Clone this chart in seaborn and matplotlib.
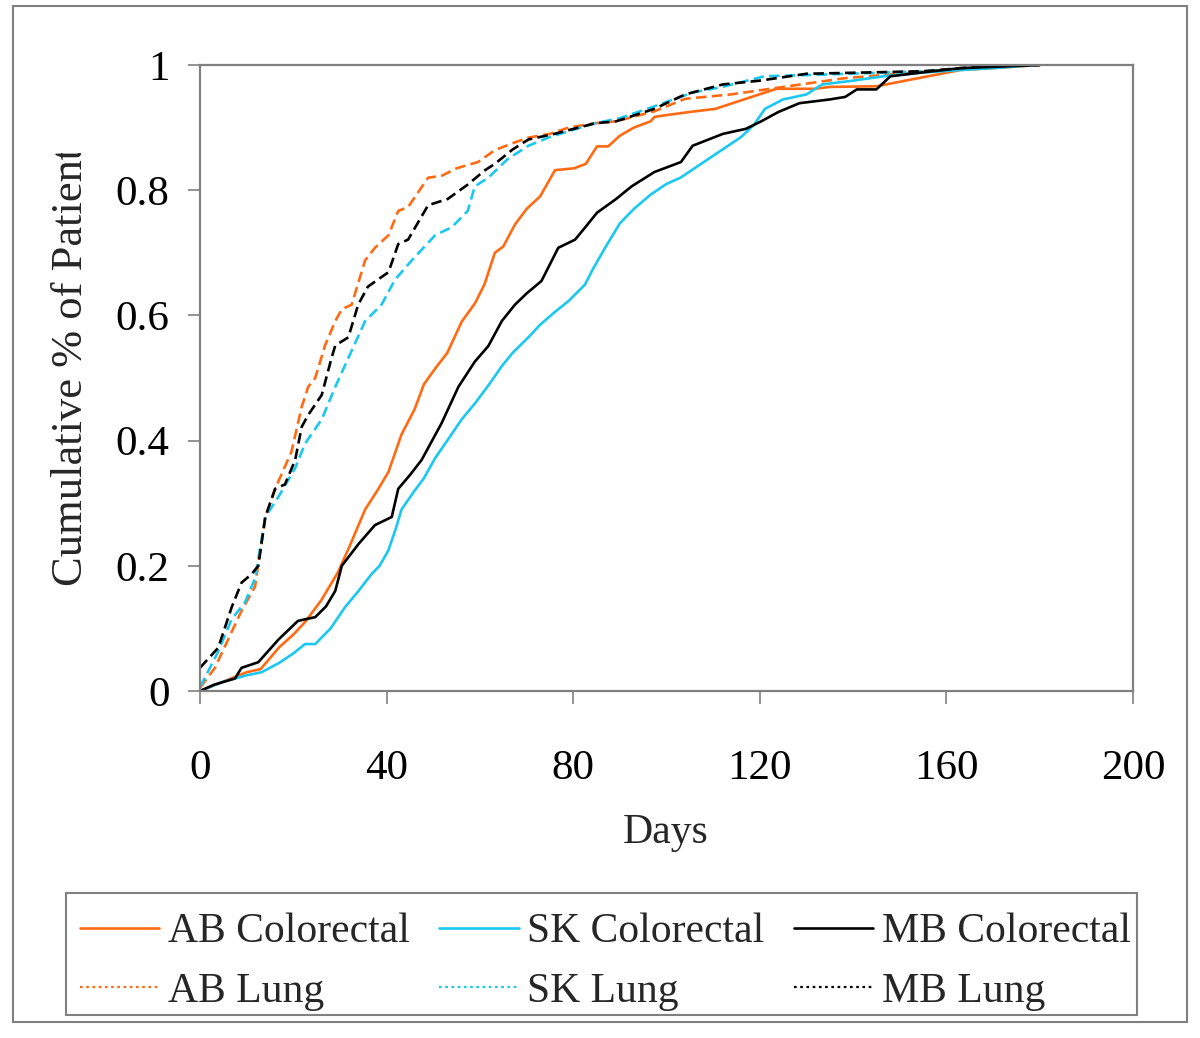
import matplotlib
matplotlib.use("Agg")
import matplotlib.pyplot as plt
from matplotlib.lines import Line2D
from matplotlib.patches import Rectangle
from matplotlib.transforms import Bbox
import seaborn as sns
import pandas as pd

# ---------------- data ----------------
ab_col_days = [0, 5, 10, 13, 17, 20, 22.5, 26, 29.6, 32, 35.4, 38, 40.4, 43.2, 46, 48, 50.4, 53, 56.1, 59, 61,
               63.2, 65, 67.5, 70, 72.9, 76.1, 80.2, 82.7, 85.1, 87.5, 90, 93, 96.6, 97.4, 100, 105, 110.5, 117,
               123.6, 131.8, 135, 145, 154, 163, 170, 180]
ab_col_vals = [0, 0.015, 0.03, 0.035, 0.07, 0.09, 0.11, 0.145, 0.19, 0.23, 0.29, 0.32, 0.35, 0.41, 0.45, 0.49,
               0.515, 0.54, 0.59, 0.62, 0.65, 0.70, 0.71, 0.745, 0.77, 0.79, 0.832, 0.835, 0.842, 0.87, 0.87,
               0.887, 0.90, 0.91, 0.917, 0.92, 0.925, 0.93, 0.946, 0.962, 0.962, 0.965, 0.966, 0.979, 0.992,
               0.995, 1.0]

sk_col_days = [0, 5, 10, 13.2, 17, 20, 22.5, 24.7, 28, 31.1, 34, 36.8, 38.5, 40.4, 42, 43.2, 46, 48, 50.4, 53,
               56.1, 59, 62, 64.7, 67, 70.4, 72.9, 76, 79, 82.5, 84.3, 87, 90, 93, 96.6, 100, 103, 108, 113, 116,
               118.7, 121.1, 125, 130, 133.4, 140, 146.5, 155, 163, 170, 179]
sk_col_vals = [0, 0.015, 0.025, 0.03, 0.045, 0.06, 0.075, 0.075, 0.10, 0.134, 0.16, 0.187, 0.2, 0.225, 0.26,
               0.29, 0.32, 0.34, 0.372, 0.40, 0.434, 0.46, 0.49, 0.519, 0.54, 0.565, 0.585, 0.605, 0.623, 0.649,
               0.675, 0.71, 0.747, 0.77, 0.793, 0.81, 0.82, 0.845, 0.87, 0.885, 0.904, 0.93, 0.945, 0.953, 0.969,
               0.975, 0.982, 0.988, 0.992, 0.995, 1.0]

mb_col_days = [0, 3, 7.5, 8.9, 12.5, 16.8, 21, 24.7, 27, 29, 30.4, 34, 37.5, 41.1, 42.5, 45, 47.5, 51.8, 55.4,
               58.9, 61.8, 64.7, 67.5, 70, 73.2, 76.8, 80.4, 82.5, 85.1, 89.2, 92.5, 97.4, 103.1, 105.6, 112.1,
               117, 120.3, 124, 128.5, 135, 138.3, 140.8, 145, 148, 154.7, 163, 180]
mb_col_vals = [0, 0.01, 0.02, 0.037, 0.046, 0.082, 0.112, 0.118, 0.135, 0.16, 0.2, 0.235, 0.265, 0.278, 0.323,
               0.345, 0.369, 0.428, 0.486, 0.526, 0.551, 0.591, 0.617, 0.635, 0.655, 0.708, 0.721, 0.74, 0.764,
               0.786, 0.806, 0.829, 0.845, 0.871, 0.89, 0.898, 0.91, 0.925, 0.939, 0.945, 0.949, 0.961, 0.961,
               0.982, 0.988, 0.995, 1.0]

ab_lung_days = [0, 3.2, 6, 8.9, 11.8, 14, 16.1, 19.6, 21.8, 23.2, 24.7, 26.8, 29, 30.4, 32.5, 35.4, 37.5, 40.4,
                42.5, 44.6, 48.9, 51.8, 55, 59.6, 63.2, 67, 70.4, 75, 79, 84.7, 89.2, 97.4, 104, 113.8, 126,
                138.3, 154.7, 171, 180]
ab_lung_vals = [0.005, 0.037, 0.082, 0.128, 0.167, 0.278, 0.323, 0.382, 0.454, 0.486, 0.5, 0.552, 0.591, 0.61,
                0.617, 0.688, 0.708, 0.728, 0.767, 0.773, 0.82, 0.823, 0.835, 0.845, 0.864, 0.875, 0.884, 0.89,
                0.90, 0.907, 0.91, 0.926, 0.946, 0.953, 0.966, 0.979, 0.989, 0.998, 1.0]

sk_lung_days = [0, 3.9, 6.8, 9.6, 11.8, 14, 16.8, 20.4, 22.5, 26.1, 29, 31.8, 35.4, 38.9, 41.8, 45.4, 50.4, 54,
                57.4, 58.9, 61.8, 66, 70.4, 75, 84.7, 90, 95.9, 105.6, 112, 121, 135, 155, 170, 180]
sk_lung_vals = [0.006, 0.063, 0.115, 0.141, 0.18, 0.278, 0.31, 0.356, 0.395, 0.434, 0.486, 0.532, 0.591, 0.617,
                0.657, 0.688, 0.728, 0.741, 0.767, 0.806, 0.82, 0.85, 0.871, 0.885, 0.907, 0.915, 0.93, 0.956,
                0.965, 0.982, 0.985, 0.99, 0.996, 1.0]

mb_lung_days = [0, 3.9, 6.8, 8.9, 11.1, 12.5, 14, 16.1, 18.2, 20.4, 21.8, 23.2, 26.1, 28.2, 29, 31.8, 33.9, 36,
                40.4, 42.5, 44.6, 48.9, 53.1, 57.4, 61.1, 63.2, 67, 70.4, 76, 84.7, 89.2, 97.4, 104, 112.1, 120,
                130, 155, 168, 180]
mb_lung_vals = [0.037, 0.069, 0.134, 0.173, 0.187, 0.2, 0.278, 0.323, 0.33, 0.369, 0.422, 0.441, 0.473, 0.532,
                0.552, 0.565, 0.617, 0.646, 0.669, 0.714, 0.721, 0.776, 0.786, 0.809, 0.832, 0.842, 0.865, 0.881,
                0.89, 0.907, 0.91, 0.93, 0.953, 0.969, 0.975, 0.986, 0.99, 0.998, 1.0]

series_labels = ["AB Colorectal", "AB Lung", "SK Colorectal", "SK Lung", "MB Colorectal", "MB Lung"]
x_ticks = [0, 40, 80, 120, 160, 200]
y_ticks = [0, 0.2, 0.4, 0.6, 0.8, 1]
y_tick_labels = ["0", "0.2", "0.4", "0.6", "0.8", "1"]

# ---------------- styling ----------------
sns.set_theme(style="white")
plt.rcParams["font.family"] = ["Liberation Serif", "DejaVu Serif"]

ORANGE = "#FF6A13"
CYAN = "#1AC8F0"
BLACK = "#000000"
GRAY = "#808080"
SOLID = "-"
DASH = (0, (4, 2))

W, H = 1200, 1038
fig = plt.figure(figsize=(W / 100, H / 100), dpi=100)
ax = fig.add_axes([200 / W, 1 - 691 / H, (1133 - 200) / W, (691 - 65) / H])

series = [
    (ab_col_days, ab_col_vals, ORANGE, SOLID),
    (ab_lung_days, ab_lung_vals, ORANGE, DASH),
    (sk_col_days, sk_col_vals, CYAN, SOLID),
    (sk_lung_days, sk_lung_vals, CYAN, DASH),
    (mb_col_days, mb_col_vals, BLACK, SOLID),
    (mb_lung_days, mb_lung_vals, BLACK, DASH),
]

handles = []
for (d, v, c, ls), lab in zip(series, series_labels):
    df = pd.DataFrame({"Days": d, "Value": v})
    sns.lineplot(data=df, x="Days", y="Value", ax=ax, color=c, linewidth=1.9,
                 legend=False, estimator=None, sort=True)
    ln = ax.lines[-1]
    ln.set_linestyle(ls)
    handles.append(Line2D([0], [0], color=c, lw=1.9 if ls == SOLID else 1.6,
                          linestyle=ls if ls == SOLID else (0, (1.2, 1.6))))

ax.set_xlim(0, 200)
ax.set_ylim(0, 1)
ax.set_xticks(x_ticks)
ax.set_xticklabels([str(t) for t in x_ticks])
ax.set_yticks(y_ticks)
ax.set_yticklabels(y_tick_labels)
ax.set_xlabel("")
ax.set_ylabel("")
ax.tick_params(axis="x", direction="out", length=9, width=1.2, color=GRAY, pad=33,
               labelsize=31, labelcolor="black", bottom=True)
ax.tick_params(axis="y", direction="out", length=9, width=1.2, color=GRAY, pad=13,
               labelsize=31, labelcolor="black", left=True)
for sp in ax.spines.values():
    sp.set_color(GRAY)
    sp.set_linewidth(1.6)
ax.set_facecolor("white")
ax.grid(False)

# axis titles
fig.text(666 / W, 1 - 833 / H, "Days", ha="center", va="center", fontsize=30)
ylab = fig.text(71 / W, 1 - 586 / H, "Cumulative % of Patients", rotation=90,
                ha="center", va="bottom", fontsize=32)
ylab.set_clip_on(True)
ylab.set_clip_box(Bbox.from_extents(0, 0, 200, H - 153))

# legend
leg = fig.legend(handles, series_labels, ncol=3, loc="upper left",
                 bbox_to_anchor=(80 / W, 1 - 913 / H),
                 fontsize=30, frameon=False,
                 handlelength=1.9, handletextpad=0.2, columnspacing=0.72,
                 labelspacing=0.5, borderpad=0.0, borderaxespad=0)

# legend box and outer chart border
fig.patches.append(Rectangle((66 / W, 1 - 1015 / H), (1137 - 66) / W, (1015 - 893) / H,
                             transform=fig.transFigure, fill=False, edgecolor=GRAY, linewidth=1.5))
fig.patches.append(Rectangle((13 / W, 1 - 1022 / H), (1187 - 13) / W, (1022 - 6) / H,
                             transform=fig.transFigure, fill=False, edgecolor=GRAY, linewidth=1.5))

fig.savefig("out.png", dpi=100, facecolor="white")
